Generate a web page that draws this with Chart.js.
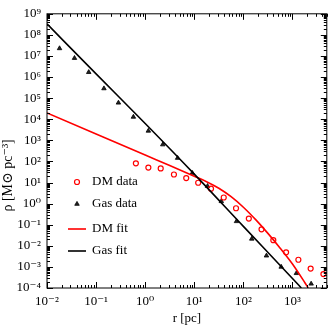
<!DOCTYPE html>
<html><head><meta charset="utf-8">
<script src="https://cdn.jsdelivr.net/npm/chart.js@4/dist/chart.umd.min.js"></script>
<style>html,body{margin:0;padding:0;background:#fff}#wrap{width:332px;height:328px;position:relative}</style>
</head><body><div id="wrap"><canvas id="c" width="332" height="328"></canvas></div>
<script>
// ---- data (r in pc, rho in Msun/pc^3) ----
const dmR   = [0.646, 1.16, 2.07, 3.85, 6.85, 12.0, 21.9, 39.8, 70.8, 129, 234, 407, 741, 1318, 2344, 4266];
const dmRho = [81.3, 51.3, 46.8, 24.0, 16.2, 9.77, 5.13, 1.95, 0.603, 0.195, 0.0603, 0.0186, 0.0049, 0.00219, 0.00083, 0.000457];
const gasR   = [0.018, 0.0363, 0.0708, 0.1445, 0.285, 0.575, 1.16, 2.28, 4.57, 9.12, 18.6, 35.5, 72.4, 148, 295, 589, 1202, 2399];
const gasRho = [2.29e7, 7.94e6, 1.70e6, 2.88e5, 6.03e4, 1.29e4, 2818, 631, 145, 28.2, 6.76, 1.29, 0.145, 0.0214, 0.00339, 0.001, 0.0005, 0.000158];
const dmFitR   = [0.01, 0.1, 1, 3.16, 10, 17.8, 31.6, 56.2, 100, 178, 316, 562, 1000, 1778, 2089];
const dmFitRho = [2.0e4, 2.0e3, 200, 64.6, 20.0, 11.0, 5.37, 2.14, 0.676, 0.174, 0.0389, 0.00776, 0.00138, 1.82e-4, 1.0e-4];
const gasFitR   = [0.01, 0.1, 1, 10, 100, 1000, 1514];
const gasFitRho = [3.31e8, 1.41e6, 6310, 25.1, 0.0832, 2.82e-4, 1.0e-4];
const xTicks = [1e-2, 1e-1, 1e0, 1e1, 1e2, 1e3];
const yTicks = [1e-4, 1e-3, 1e-2, 1e-1, 1e0, 1e1, 1e2, 1e3, 1e4, 1e5, 1e6, 1e7, 1e8, 1e9];
const labels = ['DM data', 'Gas data', 'DM fit', 'Gas fit'];

const FONT = "'Liberation Serif','DejaVu Serif','Times New Roman',serif";
const sup = {'-':'\u207B','0':'\u2070','1':'\u00B9','2':'\u00B2','3':'\u00B3','4':'\u2074','5':'\u2075','6':'\u2076','7':'\u2077','8':'\u2078','9':'\u2079'};
function fmt(v){ const e = Math.round(Math.log10(v)); return '10' + String(e).split('').map(c=>sup[c]).join(''); }
const pts = (xs, ys) => xs.map((x,i)=>({x:x, y:ys[i]}));

// frame with inward major/minor ticks on all four sides
const frame = {
  id: 'frame',
  afterDatasetsDraw(chart){
    const {ctx, chartArea:a, scales:{x, y}} = chart;
    ctx.save();
    ctx.strokeStyle = '#000'; ctx.lineWidth = 1;
    ctx.strokeRect(a.left, a.top, a.right - a.left, a.bottom - a.top);
    ctx.beginPath();
    const tickX = (v, len) => { const p = Math.round(x.getPixelForValue(v)) + 0.5;
      ctx.moveTo(p, a.bottom); ctx.lineTo(p, a.bottom - len); ctx.moveTo(p, a.top); ctx.lineTo(p, a.top + len); };
    const tickY = (v, len) => { const p = Math.round(y.getPixelForValue(v)) + 0.5;
      ctx.moveTo(a.left, p); ctx.lineTo(a.left + len, p); ctx.moveTo(a.right, p); ctx.lineTo(a.right - len, p); };
    for (let e = -2; e <= 3; e++) for (let k = 1; k <= 9; k++) {
      const v = k * Math.pow(10, e); if (v > x.max) continue; tickX(v, k === 1 ? 6 : 3); }
    for (let e = -4; e <= 9; e++) for (let k = 1; k <= 9; k++) {
      const v = k * Math.pow(10, e); if (v > y.max) continue; tickY(v, k === 1 ? 6 : 3); }
    ctx.stroke();
    ctx.restore();
  }
};

// legend drawn inside the plot area
const legendIn = {
  id: 'legendIn',
  afterDraw(chart){
    const ctx = chart.ctx;
    const ds = chart.data.datasets;
    const rows = [182, 204, 229, 251];
    ctx.save();
    ctx.textBaseline = 'middle'; ctx.textAlign = 'left';
    ds.forEach((d, i) => {
      const yy = rows[i];
      if (d.showLine) {
        ctx.strokeStyle = d.borderColor; ctx.lineWidth = d.borderWidth;
        ctx.beginPath(); ctx.moveTo(68, yy); ctx.lineTo(86, yy); ctx.stroke();
      } else {
        ctx.strokeStyle = d.pointBorderColor; ctx.fillStyle = d.pointBackgroundColor; ctx.lineWidth = d.pointBorderWidth;
        ctx.beginPath();
        if (d.pointStyle === 'circle') { ctx.arc(77, yy, d.pointRadius, 0, Math.PI*2); ctx.stroke(); }
        else { const r = d.pointRadius; ctx.moveTo(77, yy - r); ctx.lineTo(77 + r*0.87, yy + r*0.5); ctx.lineTo(77 - r*0.87, yy + r*0.5); ctx.closePath(); ctx.fill(); ctx.stroke(); }
      }
      ctx.font = '13px ' + FONT; ctx.fillStyle = '#000';
      ctx.fillText(d.label, 92, yy);
    });
    ctx.restore();
  }
};

new Chart(document.getElementById('c'), {
  type: 'scatter',
  data: { datasets: [
    { label: labels[0], data: pts(dmR, dmRho), showLine: false, pointStyle: 'circle', pointRadius: 2.5,
      pointBorderWidth: 1.2, pointBorderColor: '#ff0000', pointBackgroundColor: 'rgba(0,0,0,0)', borderColor: '#ff0000', order: 3 },
    { label: labels[1], data: pts(gasR, gasRho), showLine: false, pointStyle: 'triangle', pointRadius: 2.6,
      pointBorderWidth: 0.8, pointBorderColor: '#000', pointBackgroundColor: '#222', borderColor: '#000', order: 4 },
    { label: labels[2], data: pts(dmFitR, dmFitRho), showLine: true, pointRadius: 0, borderColor: '#ff0000', borderWidth: 1.6,
      cubicInterpolationMode: 'monotone', fill: false, order: 2 },
    { label: labels[3], data: pts(gasFitR, gasFitRho), showLine: true, pointRadius: 0, borderColor: '#000', borderWidth: 1.6,
      cubicInterpolationMode: 'monotone', fill: false, order: 1 }
  ]},
  options: {
    responsive: false, animation: false, devicePixelRatio: 1,
    layout: { padding: { top: 8, right: 4, left: 0, bottom: 0 } },
    plugins: { legend: { display: false }, tooltip: { enabled: false } },
    scales: {
      x: { type: 'logarithmic', min: 0.01, max: 5000,
        afterBuildTicks: s => { s.ticks = xTicks.map(v => ({value: v})); },
        afterFit: s => { s.height = 40; },
        grid: { display: false, drawTicks: false }, border: { display: false },
        ticks: { callback: v => fmt(v), color: '#000', padding: 6, maxRotation: 0, autoSkip: false, font: { family: FONT, size: 13 } },
        title: { display: true, text: 'r [pc]', color: '#000', padding: { top: 0, bottom: 2 }, font: { family: FONT, size: 13 } } },
      y: { type: 'logarithmic', min: 1e-4, max: 1e9,
        afterBuildTicks: s => { s.ticks = yTicks.map(v => ({value: v})); },
        afterFit: s => { s.width = 47; },
        grid: { display: false, drawTicks: false }, border: { display: false },
        ticks: { callback: v => fmt(v), color: '#000', padding: 6, autoSkip: false, font: { family: FONT, size: 13 } },
        title: { display: true, text: '\u03C1 [M\u2299 pc\u207B\u00B3]' + '\u00A0'.repeat(14), color: '#000', padding: { top: 0, bottom: 0 }, font: { family: FONT, size: 14 } } }
    }
  },
  plugins: [frame, legendIn]
});
</script></body></html>
